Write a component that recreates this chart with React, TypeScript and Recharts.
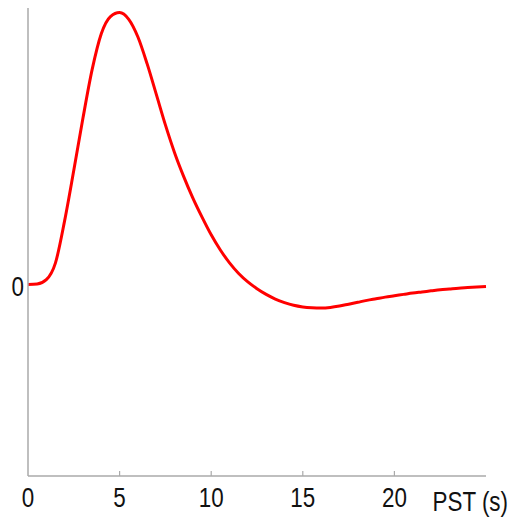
import React from 'react';
import { LineChart, Line, XAxis, YAxis } from 'recharts';

// peristimulus time (s) and response
const pst = [
    0, 0.5, 1, 1.5, 2, 2.5, 3, 3.5, 4, 4.5, 5, 5.5, 6, 6.5, 7, 7.5, 8, 8.5, 9, 9.5,
    10, 10.5, 11, 11.5, 12, 12.5, 13, 13.5, 14, 14.5, 15, 15.5, 16, 16.5, 17, 17.5,
    18, 18.5, 19, 19.5, 20, 20.5, 21, 21.5, 22, 22.5, 23, 23.5, 24, 24.5, 25,
];
const response = [
    0, 0.002, 0.018, 0.08, 0.235, 0.42, 0.612, 0.79, 0.922, 0.985, 1.0, 0.975, 0.91,
    0.812, 0.7, 0.587, 0.485, 0.397, 0.318, 0.248, 0.183, 0.127, 0.08, 0.041, 0.01,
    -0.015, -0.036, -0.053, -0.066, -0.076, -0.082, -0.085, -0.086, -0.084, -0.079,
    -0.072, -0.065, -0.058, -0.052, -0.046, -0.041, -0.036, -0.031, -0.027, -0.023,
    -0.019, -0.016, -0.013, -0.011, -0.009, -0.007,
];
const xTicks = [0, 5, 10, 15, 20];
const yTicks = [0];

const data = pst.map((t, i) => ({ t, response: response[i] }));

const FONT = '"Liberation Sans", Arial, sans-serif';
const AXIS = '#aaaaaa';
const INK = '#111111';

// narrow lettering like the original (no condensed font installed)
const Narrow = ({ x, y, anchor, children }: any) => (
    <text
        transform={`translate(${x},${y}) scale(0.8,1)`}
        textAnchor={anchor}
        fontSize={28}
        fontFamily={FONT}
        fill={INK}
    >
        {children}
    </text>
);

const XTick = (props: any) => {
    const { x, y, payload } = props;
    return (
        <g>
            {payload.value !== 0 && <line x1={x} x2={x} y1={y} y2={y - 5} stroke={AXIS} strokeWidth={1.2} />}
            <Narrow x={x} y={y + 31} anchor="middle">{payload.value}</Narrow>
        </g>
    );
};

const YTick = (props: any) => {
    const { x, y, payload } = props;
    return <Narrow x={x - 4} y={y + 11} anchor="end">{payload.value}</Narrow>;
};

const AxisLabel = (props: any) => {
    const { viewBox } = props;
    return (
        <Narrow x={viewBox.x + viewBox.width + 22} y={viewBox.y + 35} anchor="end">
            PST (s)
        </Narrow>
    );
};

export default function App() {
    return (
        <div style={{ position: 'absolute', left: 0, top: 0, background: '#fff' }}>
            <LineChart width={512} height={522} data={data} margin={{ top: 8, right: 26, left: 0, bottom: 0 }}>
                <XAxis
                    dataKey="t"
                    type="number"
                    domain={[0, 25]}
                    ticks={xTicks}
                    interval={0}
                    height={46}
                    stroke={AXIS}
                    strokeWidth={1.5}
                    tickLine={false}
                    tickSize={0}
                    tickMargin={0}
                    tick={<XTick />}
                    label={<AxisLabel />}
                />
                <YAxis
                    type="number"
                    domain={[-0.7035, 1.0166]}
                    ticks={yTicks}
                    width={28}
                    stroke={AXIS}
                    strokeWidth={1.5}
                    tickLine={false}
                    tickSize={0}
                    tickMargin={0}
                    tick={<YTick />}
                    allowDataOverflow
                />
                <Line
                    type="monotone"
                    dataKey="response"
                    stroke="#ff0000"
                    strokeWidth={3}
                    dot={false}
                    isAnimationActive={false}
                />
            </LineChart>
        </div>
    );
}
